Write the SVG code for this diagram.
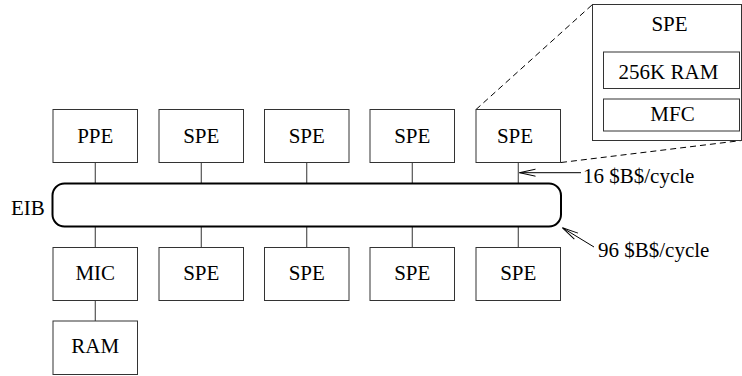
<svg xmlns="http://www.w3.org/2000/svg" width="742" height="376" viewBox="0 0 742 376">
  <style>
    .box { fill: #ffffff; stroke: #333333; stroke-width: 1; }
    .bus { fill: #ffffff; stroke: #000000; stroke-width: 2; }
    .wire { stroke: #333333; stroke-width: 1; fill: none; }
    .dash { stroke: #000000; stroke-width: 1; fill: none; stroke-dasharray: 6 4; }
    .ptr { stroke: #000000; stroke-width: 1; fill: none; }
    .c { text-anchor: middle; }
  </style>
  <defs>
    <marker id="openArrow" markerUnits="userSpaceOnUse" markerWidth="20" markerHeight="10" refX="0" refY="0" viewBox="-18 -5 20 10" orient="auto" overflow="visible">
      <path d="M-16,-3.5 L0,0 L-16,3.5" fill="none" stroke="#000000" stroke-width="1"/>
    </marker>
  </defs>
  <rect width="742" height="376" fill="#ffffff"/>

  <g font-family="'Liberation Serif', serif" font-size="21" fill="#000000">
  <!-- bus connections -->
  <g id="connectors">
    <line class="wire" x1="95.25" y1="162.5" x2="95.25" y2="183.5"/>
    <line class="wire" x1="201.25" y1="162.5" x2="201.25" y2="183.5"/>
    <line class="wire" x1="306.75" y1="162.5" x2="306.75" y2="183.5"/>
    <line class="wire" x1="412.25" y1="162.5" x2="412.25" y2="183.5"/>
    <line class="wire" x1="518.25" y1="162.5" x2="518.25" y2="183.5"/>
    <line class="wire" x1="95.25" y1="226.5" x2="95.25" y2="247.5"/>
    <line class="wire" x1="201.25" y1="226.5" x2="201.25" y2="247.5"/>
    <line class="wire" x1="306.75" y1="226.5" x2="306.75" y2="247.5"/>
    <line class="wire" x1="412.25" y1="226.5" x2="412.25" y2="247.5"/>
    <line class="wire" x1="518.25" y1="226.5" x2="518.25" y2="247.5"/>
    <line class="wire" x1="95.25" y1="300.5" x2="95.25" y2="321"/>
    <!-- zoom lines to the SPE detail -->
    <line class="dash" x1="476" y1="109.5" x2="592.5" y2="4.5"/>
    <line class="dash" x1="561" y1="162.5" x2="741.5" y2="140.5"/>
    <!-- bandwidth pointers -->
    <line class="ptr" x1="581" y1="172.7" x2="519.5" y2="172.7" marker-end="url(#openArrow)"/>
    <line class="ptr" x1="594" y1="247" x2="562.5" y2="227.8" marker-end="url(#openArrow)"/>
  </g>

  <g id="eib">
    <rect class="bus" x="52.5" y="183.5" width="508.5" height="43" rx="12" ry="12"/>
    <text x="11" y="215">EIB</text>
  </g>

  <g id="ppe">
    <rect class="box" x="53" y="109.5" width="84.5" height="53"/>
    <text class="c" x="95.25" y="142.5">PPE</text>
  </g>
  <g id="spe1">
    <rect class="box" x="159" y="109.5" width="84.5" height="53"/>
    <text class="c" x="201.25" y="142.5">SPE</text>
  </g>
  <g id="spe2">
    <rect class="box" x="264.5" y="109.5" width="84.5" height="53"/>
    <text class="c" x="306.75" y="142.5">SPE</text>
  </g>
  <g id="spe3">
    <rect class="box" x="370" y="109.5" width="84.5" height="53"/>
    <text class="c" x="412.25" y="142.5">SPE</text>
  </g>
  <g id="spe4">
    <rect class="box" x="476" y="109.5" width="84.5" height="53"/>
    <text class="c" x="515" y="142.5">SPE</text>
  </g>

  <g id="mic">
    <rect class="box" x="53" y="247.5" width="84.5" height="53"/>
    <text class="c" x="95.25" y="279.5">MIC</text>
  </g>
  <g id="spe5">
    <rect class="box" x="159" y="247.5" width="84.5" height="53"/>
    <text class="c" x="201.25" y="279.5">SPE</text>
  </g>
  <g id="spe6">
    <rect class="box" x="264.5" y="247.5" width="84.5" height="53"/>
    <text class="c" x="306.75" y="279.5">SPE</text>
  </g>
  <g id="spe7">
    <rect class="box" x="370" y="247.5" width="84.5" height="53"/>
    <text class="c" x="412.25" y="279.5">SPE</text>
  </g>
  <g id="spe8">
    <rect class="box" x="476" y="247.5" width="84.5" height="53"/>
    <text class="c" x="518.25" y="279.5">SPE</text>
  </g>

  <g id="ram">
    <rect class="box" x="53" y="321" width="84.5" height="53.5"/>
    <text class="c" x="95.25" y="353">RAM</text>
  </g>

  <!-- SPE detail -->
  <g id="spe-detail">
    <rect class="box" x="592.5" y="4.5" width="149" height="136"/>
    <text class="c" x="669.5" y="31">SPE</text>
    <rect class="box" x="603.5" y="52" width="136" height="36.5"/>
    <text class="c" x="668.5" y="78.5">256K RAM</text>
    <rect class="box" x="603.5" y="99" width="136" height="32"/>
    <text class="c" x="672.5" y="120.5">MFC</text>
  </g>

  <g id="bandwidth-labels">
    <text x="583" y="183">16 $B$/cycle</text>
    <text x="598" y="257">96 $B$/cycle</text>
  </g>
  </g>
</svg>
